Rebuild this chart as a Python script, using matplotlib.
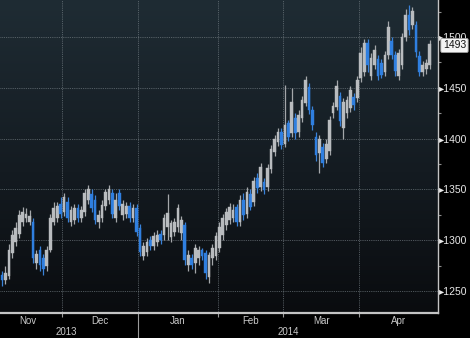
import matplotlib
matplotlib.use('Agg')
import matplotlib.pyplot as plt
import numpy as np
from matplotlib.colors import LinearSegmentedColormap
from matplotlib.transforms import blended_transform_factory
from matplotlib.ticker import FixedLocator, NullFormatter

# ---- data (daily candles) ----
opens = [1266, 1261, 1265, 1287, 1298, 1306, 1318, 1322, 1318, 1318,
         1278, 1290, 1282, 1275, 1290, 1318, 1322, 1336, 1328, 1338,
         1318, 1320, 1332, 1322, 1328, 1340, 1345, 1340, 1318, 1322,
         1334, 1340, 1346, 1322, 1346, 1325, 1326, 1334, 1322, 1332,
         1312, 1284, 1288, 1300, 1294, 1298, 1306, 1305, 1313, 1303,
         1308, 1313, 1307, 1315, 1276, 1282, 1278, 1282, 1290, 1287,
         1264, 1282, 1284, 1292, 1305, 1315, 1320, 1322, 1333, 1318,
         1340, 1326, 1345, 1338, 1361, 1352, 1357, 1352, 1370, 1387,
         1397, 1406, 1395, 1415, 1405, 1420, 1406, 1420, 1435, 1451,
         1428, 1402, 1386, 1392, 1380, 1388, 1425, 1431, 1442, 1410,
         1425, 1430, 1441, 1440, 1460, 1466, 1494, 1462, 1472, 1478,
         1474, 1466, 1482, 1496, 1482, 1462, 1472, 1500, 1522, 1512,
         1512, 1481, 1466, 1468, 1472]
highs = [1270, 1275, 1296, 1310, 1318, 1330, 1333, 1332, 1330, 1322,
         1290, 1294, 1286, 1294, 1326, 1338, 1338, 1342, 1346, 1342,
         1334, 1336, 1336, 1334, 1350, 1354, 1350, 1344, 1330, 1340,
         1350, 1354, 1350, 1346, 1350, 1340, 1338, 1338, 1336, 1336,
         1316, 1298, 1302, 1304, 1308, 1310, 1310, 1326, 1345, 1320,
         1322, 1336, 1324, 1318, 1290, 1286, 1296, 1294, 1292, 1290,
         1288, 1296, 1308, 1318, 1326, 1332, 1337, 1336, 1336, 1344,
         1346, 1352, 1350, 1362, 1366, 1376, 1361, 1375, 1394, 1404,
         1410, 1410, 1453, 1418, 1450, 1425, 1428, 1442, 1462, 1455,
         1432, 1406, 1404, 1396, 1400, 1422, 1436, 1458, 1446, 1440,
         1442, 1452, 1445, 1462, 1490, 1498, 1498, 1484, 1492, 1482,
         1478, 1486, 1516, 1500, 1486, 1488, 1504, 1528, 1531, 1530,
         1516, 1486, 1476, 1478, 1497]
lows = [1255, 1257, 1262, 1282, 1294, 1302, 1314, 1318, 1315, 1278,
        1272, 1270, 1266, 1270, 1288, 1315, 1318, 1322, 1324, 1318,
        1314, 1316, 1318, 1318, 1324, 1336, 1328, 1316, 1312, 1318,
        1330, 1336, 1322, 1318, 1330, 1320, 1322, 1318, 1318, 1304,
        1284, 1280, 1284, 1290, 1290, 1294, 1296, 1300, 1300, 1298,
        1304, 1308, 1300, 1276, 1270, 1272, 1268, 1276, 1280, 1262,
        1258, 1276, 1280, 1288, 1300, 1310, 1316, 1318, 1314, 1314,
        1320, 1322, 1330, 1334, 1346, 1348, 1345, 1348, 1366, 1383,
        1393, 1390, 1392, 1398, 1402, 1400, 1402, 1416, 1432, 1424,
        1408, 1378, 1366, 1372, 1376, 1384, 1420, 1428, 1412, 1400,
        1420, 1426, 1428, 1436, 1456, 1462, 1466, 1458, 1468, 1458,
        1460, 1462, 1478, 1478, 1462, 1458, 1468, 1496, 1502, 1508,
        1480, 1462, 1462, 1464, 1468]
closes = [1261, 1268, 1290, 1305, 1312, 1325, 1328, 1326, 1324, 1282,
          1286, 1276, 1272, 1290, 1322, 1332, 1334, 1326, 1342, 1322,
          1330, 1332, 1322, 1330, 1346, 1350, 1332, 1320, 1325, 1335,
          1347, 1350, 1326, 1340, 1334, 1336, 1334, 1322, 1332, 1308,
          1288, 1294, 1298, 1294, 1304, 1305, 1300, 1322, 1327, 1317,
          1318, 1332, 1320, 1280, 1285, 1276, 1292, 1290, 1284, 1268,
          1285, 1292, 1304, 1313, 1322, 1328, 1333, 1330, 1318, 1340,
          1325, 1347, 1333, 1358, 1351, 1372, 1349, 1371, 1390, 1400,
          1406, 1394, 1413, 1402, 1436, 1405, 1423, 1438, 1458, 1428,
          1413, 1384, 1400, 1376, 1395, 1418, 1432, 1452, 1417, 1436,
          1438, 1448, 1433, 1458, 1484, 1494, 1472, 1479, 1487, 1462,
          1463, 1482, 1510, 1482, 1467, 1484, 1500, 1522, 1507, 1526,
          1485, 1466, 1472, 1474, 1493]

months = ["Nov", "Dec", "Jan", "Feb", "Mar", "Apr"]
month_starts = [-2, 18, 40, 63, 82, 104]      # trading-day index of each month's first day
years = ["2013", "2014"]
year_starts = [-2, 40]
y_ticks = [1250, 1300, 1350, 1400, 1450, 1500]
y_minor = [1275, 1325, 1375, 1425, 1475, 1525]
last_price = 1493

# ---- figure ----
W, H = 470, 338
fig = plt.figure(figsize=(W / 100, H / 100), dpi=100, facecolor='black')
ax = fig.add_axes([0, 1 - 313 / H, 438 / W, 313 / H])
ax.set_facecolor('black')

x_end = 126.4
x_start = -0.58

# background gradient
cmap = LinearSegmentedColormap.from_list(
    'bg', [(0.0, '#0a0c0f'), (0.45, '#141b21'), (1.0, '#1f2c34')])
grad = np.linspace(0, 1, 256).reshape(-1, 1)
ax.imshow(grad, extent=[0, 1, 0, 1], transform=ax.transAxes, origin='lower',
          aspect='auto', cmap=cmap, zorder=0, interpolation='bicubic')

idx = np.arange(len(closes))
o = np.array(opens, float)
c = np.array(closes, float)
h = np.array(highs, float)
l = np.array(lows, float)
up = c >= o
up_col = '#b9bcbf'
dn_col = '#2f7fe0'
body_cols = np.where(up, up_col, dn_col)
wick_cols = np.where(up, '#a4a7aa', '#3a82d8')

ax.vlines(idx, l, h, colors=wick_cols, lw=0.9, zorder=3)
ax.bar(idx, np.abs(c - o), bottom=np.minimum(o, c), width=0.78,
       color=body_cols, edgecolor=body_cols, linewidth=0.3, zorder=4)

ax.set_xlim(x_start, x_end)
ax.set_ylim(1228.3, 1536.4)

# ---- x axis: month boundaries (ticks + grid), month labels (minor) ----
bounds = [s - 0.5 for s in month_starts[1:]]
edges = [month_starts[0] - 0.5] + bounds + [x_end]
centers = [(edges[k] + edges[k + 1]) / 2 for k in range(len(months))]
ax.xaxis.set_major_locator(FixedLocator(bounds))
ax.xaxis.set_major_formatter(NullFormatter())
ax.xaxis.set_minor_locator(FixedLocator(centers))
ax.set_xticklabels(months, minor=True)
ax.tick_params(axis='x', which='minor', length=0, pad=2.5, labelsize=7,
               labelcolor='#c9c9c9')
ax.tick_params(axis='x', which='major', length=3, width=0.8, color='#9a9a9a')
for b, t in zip(bounds, ax.xaxis.get_major_ticks()):
    if (b + 0.5) in year_starts[1:]:
        t.tick1line.set_markersize(19)
        t.tick1line.set_color('#8a8a8a')
for lab in ax.get_xticklabels(minor=True):
    lab.set_family(['Liberation Sans', 'DejaVu Sans'])

# year labels
ytr = blended_transform_factory(ax.transData, ax.transAxes)
yedges = [s - 0.5 for s in year_starts] + [x_end]
for k, yr in enumerate(years):
    xc = (max(yedges[k], month_starts[0] - 0.5) + yedges[k + 1]) / 2
    ax.text(xc, -0.061, yr, transform=ytr, ha='center', va='center',
            fontsize=7, color='#c9c9c9', family=['Liberation Sans', 'DejaVu Sans'],
            clip_on=False)

# ---- y axis on the right ----
ax.yaxis.tick_right()
ax.set_yticks(y_ticks)
ax.set_yticklabels(['\u25b8' + str(v) for v in y_ticks])
ax.set_yticks(y_minor, minor=True)
ax.tick_params(axis='y', which='major', length=0, pad=0.5, labelsize=7.5,
               labelcolor='#e8e8e8')
ax.tick_params(axis='y', which='minor', length=2.5, width=0.8, color='#8c8c8c')
for lab in ax.get_yticklabels():
    lab.set_family(['Liberation Sans', 'DejaVu Sans'])

# grid
ax.grid(True, which='major', color='#7d878d', lw=0.6, ls=(0, (1, 1.2)), alpha=0.8)
ax.set_axisbelow(True)
for gl in ax.get_xgridlines() + ax.get_ygridlines():
    gl.set_zorder(1)

for s in ['top', 'left']:
    ax.spines[s].set_visible(False)
ax.spines['bottom'].set_color('#c4c4c4')
ax.spines['bottom'].set_linewidth(1.6)
ax.spines['right'].set_color('#c4c4c4')
ax.spines['right'].set_linewidth(1.0)

# last price box
ax.annotate(str(last_price), xy=(1, last_price), xycoords=('axes fraction', 'data'),
            xytext=(3.5, -1.0), textcoords='offset points', ha='left', va='center',
            fontsize=7.5, color='#111111', family=['Liberation Sans', 'DejaVu Sans'],
            bbox=dict(boxstyle='round,pad=0.2,rounding_size=0.15', fc='#f4f4f4',
                      ec='#9a9a9a', lw=0.6),
            annotation_clip=False, zorder=10)

fig.savefig('out.png', dpi=100, facecolor='black')
